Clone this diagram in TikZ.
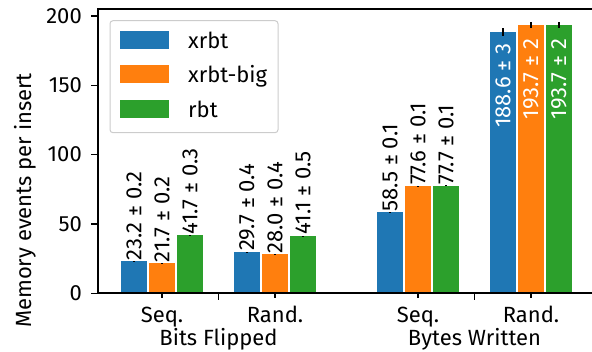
\documentclass[tikz,border=0pt]{standalone}
\usepackage{fontspec}
\setmainfont{Fira Sans}
\definecolor{cXrbt}{HTML}{1F77B4}
\definecolor{cBig}{HTML}{FF7F0E}
\definecolor{cRbt}{HTML}{2CA02C}
\newcommand\plotfont{\fontsize{22}{26}\selectfont}
\tikzset{
  vlabel/.style={rotate=90, anchor=west, inner sep=0.5pt},
  vlabelin/.style={rotate=90, anchor=east, inner sep=0pt, text=white},
  errbar/.style={line width=2pt},
  spine/.style={line width=1.8pt},
  tick/.style={line width=1.5pt},
}
\begin{document}
\begin{tikzpicture}[x=1pt, y=1pt, font=\plotfont]
  \useasboundingbox (0,0) rectangle (592,351);
  \begin{scope}[shift={(0,57.7)}, y=1.3865pt]
    \fill[cXrbt] (121,0) rectangle (147,23.2);
    \fill[cBig]  (149,0) rectangle (175,21.7);
    \fill[cRbt]  (177,0) rectangle (203,41.7);
    \fill[cXrbt] (234,0) rectangle (260,29.7);
    \fill[cBig]  (262,0) rectangle (288,28.0);
    \fill[cRbt]  (290,0) rectangle (316,41.1);
    \fill[cXrbt] (377,0) rectangle (403,58.5);
    \fill[cBig]  (405,0) rectangle (431,77.6);
    \fill[cRbt]  (433,0) rectangle (459,77.7);
    \fill[cXrbt] (490,0) rectangle (516,188.6);
    \fill[cBig]  (518,0) rectangle (544,193.7);
    \fill[cRbt]  (546,0) rectangle (572,193.7);

    \draw[errbar] (134,23.0) -- (134,23.4);
    \draw[errbar] (162,21.5) -- (162,21.9);
    \draw[errbar] (190,41.4) -- (190,42.0);
    \draw[errbar] (247,29.3) -- (247,30.1);
    \draw[errbar] (275,27.6) -- (275,28.4);
    \draw[errbar] (303,40.6) -- (303,41.6);
    \draw[errbar] (390,58.4) -- (390,58.6);
    \draw[errbar] (418,77.5) -- (418,77.7);
    \draw[errbar] (446,77.6) -- (446,77.8);
    \draw[errbar] (503,185.6) -- (503,191.6);
    \draw[errbar] (531,191.7) -- (531,195.7);
    \draw[errbar] (559,191.7) -- (559,195.7);

    \node[vlabel] (v1) at (134,23.4) {23.2 ± 0.2};
    \node[vlabel] (v2) at (162,21.9) {21.7 ± 0.2};
    \node[vlabel] (v3) at (190,42.0) {41.7 ± 0.3};
    \node[vlabel] (v4) at (247,30.1) {29.7 ± 0.4};
    \node[vlabel] (v5) at (275,28.4) {28.0 ± 0.4};
    \node[vlabel] (v6) at (303,41.6) {41.1 ± 0.5};
    \node[vlabel] (v7) at (390,58.6) {58.5 ± 0.1};
    \node[vlabel] (v8) at (418,77.7) {77.6 ± 0.1};
    \node[vlabel] (v9) at (446,77.8) {77.7 ± 0.1};
    \node[vlabelin] (v10) at (503,180.2) {188.6 ± 3};
    \node[vlabelin] (v11) at (531,183.6) {193.7 ± 2};
    \node[vlabelin] (v12) at (559,183.6) {193.7 ± 2};

    \draw[tick] (91,0) -- (98,0);
    \draw[tick] (91,50) -- (98,50);
    \draw[tick] (91,100) -- (98,100);
    \draw[tick] (91,150) -- (98,150);
    \draw[tick] (91,200) -- (98,200);
    \node[anchor=east, inner sep=0pt] (y0) at (82,0) {0};
    \node[anchor=east, inner sep=0pt] (y50) at (82,50) {50};
    \node[anchor=east, inner sep=0pt] (y100) at (82,100) {100};
    \node[anchor=east, inner sep=0pt] (y150) at (82,150) {150};
    \node[anchor=east, inner sep=0pt] (y200) at (82,200) {200};
  \end{scope}

  \draw[spine] (592,342.3) -- (98,342.3) -- (98,57.7) -- (592,57.7);
  \draw[tick] (162,57.7) -- (162,53);
  \draw[tick] (275,57.7) -- (275,53);
  \draw[tick] (418,57.7) -- (418,53);
  \draw[tick] (531,57.7) -- (531,53);
  \draw[tick] (218.5,57.7) -- (218.5,50.5);
  \draw[tick] (474.5,57.7) -- (474.5,50.5);

  \node[anchor=base] (xs1) at (162,28.3) {Seq.};
  \node[anchor=base] (xr1) at (275,28.3) {Rand.};
  \node[anchor=base] (xs2) at (418,28.3) {Seq.};
  \node[anchor=base] (xr2) at (531,28.3) {Rand.};
  \node[anchor=base] (gBits) at (218.5,5.3) {Bits Flipped};
  \node[anchor=base] (gBytes) at (474.5,5.3) {Bytes Written};
  \node[rotate=90, anchor=base] (yl) at (31,150.5) {Memory events per insert};

  \draw[rounded corners=3pt, draw=black!20, fill=white, line width=1pt] (110,330.3) rectangle (278,218.3);
  \fill[cXrbt] (120,320) rectangle (169,302.3);
  \fill[cBig]  (120,286) rectangle (169,268.3);
  \fill[cRbt]  (120,251) rectangle (169,233.3);
  \node[anchor=base west, inner sep=0pt] (kXrbt) at (188,302.9) {xrbt};
  \node[anchor=base west, inner sep=0pt] (kBig) at (188,268.9) {xrbt-big};
  \node[anchor=base west, inner sep=0pt] (kRbt) at (188,233.6) {rbt};
\end{tikzpicture}
\end{document}
